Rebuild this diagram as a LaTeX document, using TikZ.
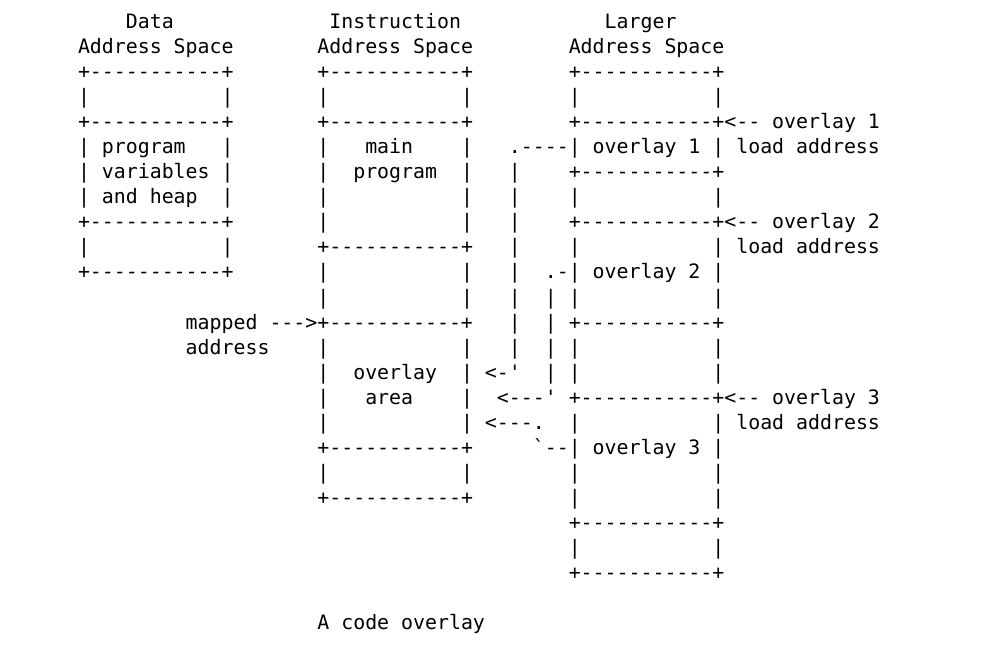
\documentclass[tikz,border=0pt]{standalone}
\usepackage{fontspec}
\setmonofont{DejaVu Sans Mono}
\newcommand\hbx{+-----------+}
\newcommand\vbx{|~~~~~~~~~~~|}
\newcommand\asc[4]{\node[txt] (#1) at ({78+11.97*#3},{29+25*#2}) {#4};}
\begin{document}
\begin{tikzpicture}[x=1pt,y=-1pt,
  txt/.style={anchor=base west,inner sep=0pt,outer sep=0pt,text=black,
    font=\ttfamily\fontsize{19.88pt}{24pt}\selectfont}]
\useasboundingbox[fill=white] (0,0) rectangle (1006,652);
% row 0-1 titles
\asc{t0a}{0}{4}{Data}
\asc{t0b}{0}{21}{Instruction}
\asc{t0c}{0}{44}{Larger}
\asc{t1a}{1}{0}{Address~Space}
\asc{t1b}{1}{20}{Address~Space}
\asc{t1c}{1}{41}{Address~Space}
% row 2
\asc{r2a}{2}{0}{\hbx}
\asc{r2b}{2}{20}{\hbx}
\asc{r2c}{2}{41}{\hbx}
% row 3
\asc{r3a}{3}{0}{\vbx}
\asc{r3b}{3}{20}{\vbx}
\asc{r3c}{3}{41}{\vbx}
% row 4
\asc{r4a}{4}{0}{\hbx}
\asc{r4b}{4}{20}{\hbx}
\asc{r4c}{4}{41}{\hbx<--~overlay~1}
% row 5
\asc{r5a}{5}{0}{|~program~~~|}
\asc{r5b}{5}{20}{|~~~main~~~~|}
\asc{r5c}{5}{36}{.----|~overlay~1~|~load~address}
% row 6
\asc{r6a}{6}{0}{|~variables~|}
\asc{r6b}{6}{20}{|~~program~~|}
\asc{r6c}{6}{36}{|}
\asc{r6d}{6}{41}{\hbx}
% row 7
\asc{r7a}{7}{0}{|~and~heap~~|}
\asc{r7b}{7}{20}{\vbx}
\asc{r7c}{7}{36}{|}
\asc{r7d}{7}{41}{\vbx}
% row 8
\asc{r8a}{8}{0}{\hbx}
\asc{r8b}{8}{20}{\vbx}
\asc{r8c}{8}{36}{|}
\asc{r8d}{8}{41}{\hbx<--~overlay~2}
% row 9
\asc{r9a}{9}{0}{\vbx}
\asc{r9b}{9}{20}{\hbx}
\asc{r9c}{9}{36}{|}
\asc{r9d}{9}{41}{\vbx~load~address}
% row 10
\asc{r10a}{10}{0}{\hbx}
\asc{r10b}{10}{20}{\vbx}
\asc{r10c}{10}{36}{|}
\asc{r10d}{10}{39}{.-|~overlay~2~|}
% row 11
\asc{r11b}{11}{20}{\vbx}
\asc{r11c}{11}{36}{|}
\asc{r11d}{11}{39}{|}
\asc{r11e}{11}{41}{\vbx}
% row 12
\asc{r12a}{12}{9}{mapped~--->\hbx}
\asc{r12c}{12}{36}{|}
\asc{r12d}{12}{39}{|}
\asc{r12e}{12}{41}{\hbx}
% row 13
\asc{r13a}{13}{9}{address}
\asc{r13b}{13}{20}{\vbx}
\asc{r13c}{13}{36}{|}
\asc{r13d}{13}{39}{|}
\asc{r13e}{13}{41}{\vbx}
% row 14
\asc{r14b}{14}{20}{|~~overlay~~|}
\asc{r14c}{14}{34}{<-'}
\asc{r14d}{14}{39}{|}
\asc{r14e}{14}{41}{\vbx}
% row 15
\asc{r15b}{15}{20}{|~~~area~~~~|}
\asc{r15c}{15}{35}{<---'}
\asc{r15e}{15}{41}{\hbx<--~overlay~3}
% row 16
\asc{r16b}{16}{20}{\vbx}
\asc{r16c}{16}{34}{<---.}
\asc{r16e}{16}{41}{\vbx~load~address}
% row 17
\asc{r17b}{17}{20}{\hbx}
\asc{r17c}{17}{38}{`--|~overlay~3~|}
% row 18
\asc{r18b}{18}{20}{\vbx}
\asc{r18e}{18}{41}{\vbx}
% row 19
\asc{r19b}{19}{20}{\hbx}
\asc{r19e}{19}{41}{\vbx}
% rows 20-22
\asc{r20e}{20}{41}{\hbx}
\asc{r21e}{21}{41}{\vbx}
\asc{r22e}{22}{41}{\hbx}
% caption
\asc{cap}{24}{20}{A~code~overlay}
\end{tikzpicture}
\end{document}
